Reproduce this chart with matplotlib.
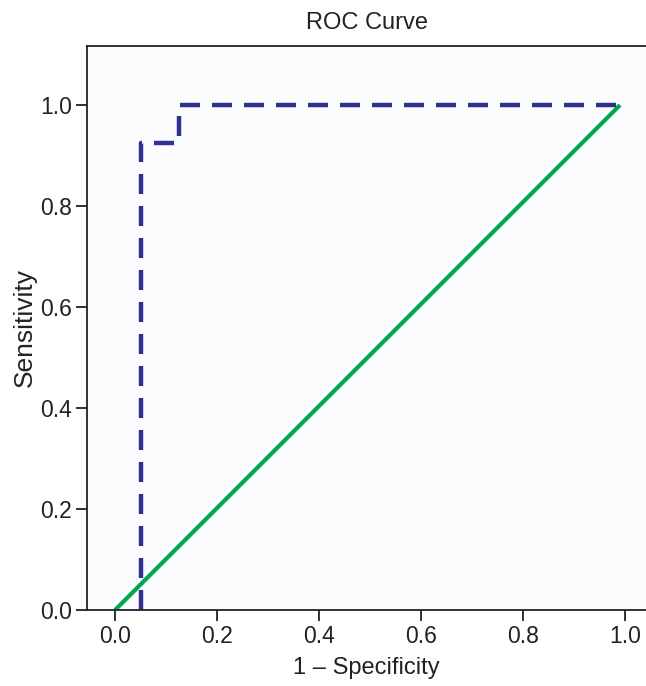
import numpy as np
from matplotlib import pyplot as plt

plt.rcParams['font.family'] = ['Liberation Sans', 'DejaVu Sans']

# ROC step curve (1 - specificity, sensitivity)
fpr = [0.05, 0.05, 0.125, 0.125, 0.99]
tpr = [0.0, 0.925, 0.925, 1.0, 1.0]
# reference diagonal
diag_x = [0.0, 0.99]
diag_y = [0.0, 1.0]
ticks = [0.0, 0.2, 0.4, 0.6, 0.8, 1.0]

fig = plt.figure(figsize=(6.46, 6.86), dpi=100)
ax = fig.add_axes([0.1347, 0.1108, 0.8653, 0.8222])
ax.set_facecolor('#fcfcfe')

ax.plot(diag_x, diag_y, color='#00a651', lw=3.0, solid_capstyle='butt')
ax.plot(fpr, tpr, color='#2e3192', lw=3.2, dashes=(4.5, 2.7))

ax.set_xlim(-0.055, 1.041)
ax.set_ylim(0, 1.117)
ax.set_xticks(ticks)
ax.set_yticks(ticks)
ax.set_xticklabels(['%.1f' % t for t in ticks])
ax.set_yticklabels(['%.1f' % t for t in ticks])
ax.tick_params(direction='out', length=8, width=1.3, labelsize=16.5, colors='#222222', pad=3)
ax.spines['right'].set_visible(False)
for s in ['left', 'bottom', 'top']:
  ax.spines[s].set_linewidth(1.3)
  ax.spines[s].set_color('#222222')

ax.set_title('ROC Curve', fontsize=17, pad=12, color='#222222')
ax.set_xlabel('1 – Specificity', fontsize=17, labelpad=6, color='#222222')
ax.set_ylabel('Sensitivity', fontsize=19, labelpad=2, color='#222222')

fig.savefig('out.png', dpi=100)
